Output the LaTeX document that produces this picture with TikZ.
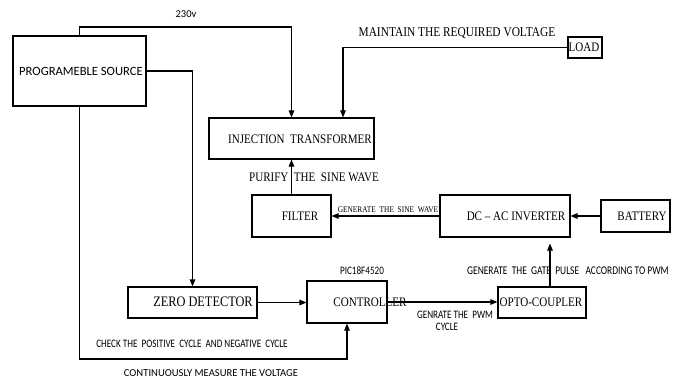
\documentclass[tikz,border=0pt]{standalone}
\usepackage{fontspec}
\newfontfamily\serc[FakeStretch=0.85,Ligatures=TeX]{Liberation Serif}
\newfontfamily\sanc[FakeStretch=0.8]{Carlito}
\newfontfamily\sanf{Carlito}
\usetikzlibrary{arrows.meta}
\begin{document}
\begin{tikzpicture}[x=1pt,y=-1pt,
  box/.style={draw,line width=1.1pt,inner sep=0pt,rectangle},
  conn/.style={line width=1.1pt},
  arr/.style={line width=1.1pt,-{Triangle[length=7pt,width=5.5pt]}},
  sertxt/.style={inner sep=0pt,font=\serc\fontsize{13}{15}\selectfont},
  sanstxt/.style={inner sep=0pt,font=\sanf\fontsize{12.6}{14}\selectfont},
  smalltxt/.style={inner sep=0pt,font=\sanc\fontsize{11.4}{13}\selectfont},
  tinyser/.style={inner sep=0pt,font=\serc\fontsize{8.7}{10}\selectfont}
]
\useasboundingbox (0,0) rectangle (680,380);
\fill[white] (0,0) rectangle (680,380);

% boxes
\node[box,minimum width=133pt,minimum height=70pt] (src) at (79.5,71) {};
\node[box,minimum width=165pt,minimum height=41pt] (inj) at (291.5,138.5) {};
\node[box,minimum width=34pt,minimum height=21pt] (load) at (585,47.5) {};
\node[box,minimum width=79pt,minimum height=42pt] (filt) at (291.5,216) {};
\node[box,minimum width=130pt,minimum height=42pt] (inv) at (505,216) {};
\node[box,minimum width=69pt,minimum height=32pt] (bat) at (635.5,216) {};
\node[box,minimum width=129pt,minimum height=31pt] (zd) at (192.5,302.5) {};
\node[box,minimum width=80pt,minimum height=42pt] (ctrl) at (347,302) {};
\node[box,minimum width=88pt,minimum height=31pt] (opto) at (542,302.5) {};

% box texts
\node[sanstxt] (srct) at (81,71) {PROGRAMEBLE SOURCE};
\node[sertxt] (injt) at (300,139) {INJECTION\ \ TRANSFORMER};
\node[sertxt] (loadt) at (584,47) {LOAD};
\node[sertxt] (filtt) at (300,216) {FILTER};
\node[sertxt] (invt) at (516,216) {DC – AC INVERTER};
\node[sertxt] (batt) at (642,216) {BATTERY};
\node[sertxt,font=\serc\fontsize{14.5}{16}\selectfont] (zdt) at (203,302) {ZERO DETECTOR};
\node[sertxt] (ctrlt) at (370,302) {CONTROLLER};
\node[sertxt] (optot) at (541,302) {OPTO-COUPLER};

% helper coordinates
\coordinate (top) at (0,27);
\coordinate (bot) at (0,359);

% connectors
\draw[arr] (src.north) -- (src.north |- top) -| (inj.north);
\draw[arr] (src.east) -| (zd.north);
\draw[arr] (src.south) -- (src.south |- bot) -| (ctrl.south);
\draw[arr] (load.west) -| ([xshift=51.5pt]inj.north);
\draw[arr] (filt.north) -- (inj.south);
\draw[arr] (inv.west) -- (filt.east);
\draw[arr] (bat.west) -- (inv.east);
\draw[arr] (zd.east) -- (zd.east -| ctrl.west);
\draw[arr] (ctrl.east) -- (ctrl.east -| opto.west);
\draw[arr,shorten >=6pt] ([xshift=8pt]opto.north) -- ([xshift=8pt]opto.north |- inv.south);

% labels
\node[sanstxt,font=\sanf\fontsize{10.5}{12}\selectfont] (l230) at (186,14) {230v};
\node[sertxt,font=\serc\fontsize{13.4}{15}\selectfont] (lmaint) at (457,33) {MAINTAIN THE REQUIRED VOLTAGE};
\node[sertxt] (lpur) at (314,177) {PURIFY\ \ THE\ \ SINE WAVE};
\node[tinyser] (lgen) at (388,210) {GENERATE\ \ THE\ \ SINE\ \ WAVE};
\node[smalltxt] (lpic) at (362,271) {PIC18F4520};
\node[smalltxt,font=\sanc\fontsize{11.8}{13}\selectfont] (lgate) at (568,271) {GENERATE\ \ THE\ \ GATE\ \ PULSE\ \ \ ACCORDING TO PWM};
\node[smalltxt] (lpwm1) at (455,315) {GENRATE THE\ \ PWM};
\node[smalltxt] (lpwm2) at (447,327) {CYCLE};
\node[smalltxt] (lchk) at (192,344) {CHECK THE\ \ POSITIVE\ \ CYCLE\ \ AND NEGATIVE\ \ CYCLE};
\node[smalltxt,font=\sanf\fontsize{10.6}{12}\selectfont] (lcont) at (211,373) {CONTINUOUSLY MEASURE THE VOLTAGE};
\end{tikzpicture}
\end{document}
